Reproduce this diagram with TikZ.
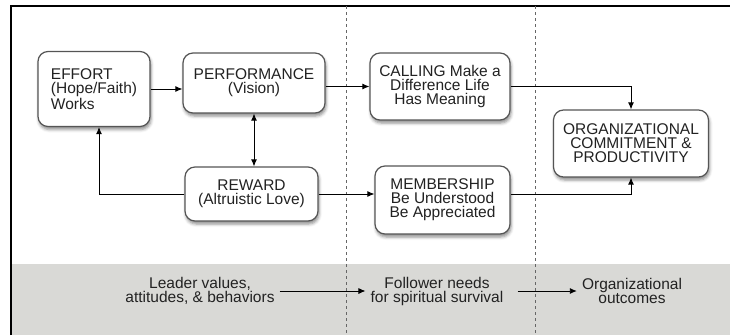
\documentclass[tikz,border=0pt]{standalone}
\usepackage{fontspec}
\setmainfont{Liberation Sans}
\usepackage{tikz}
\usetikzlibrary{arrows.meta,shadows.blur}
\definecolor{bandgray}{HTML}{D9D9D6}
\definecolor{boxline}{HTML}{555555}
\definecolor{inkgray}{HTML}{222222}

\begin{document}
\begin{tikzpicture}[x=1pt, y=-1pt,
  boxes/.style={draw=boxline, line width=1.2pt, fill=white, rounded corners=10pt,
    align=center, inner sep=3pt, text=inkgray,
    blur shadow={shadow xshift=1pt, shadow yshift=-3pt, shadow blur radius=3pt, shadow opacity=45},
    font=\fontsize{15.5}{14}\selectfont},
  labels/.style={align=center, inner sep=5pt, text=inkgray, font=\fontsize{15.5}{14}\selectfont},
  paths/.style={-{Latex[length=7pt,width=6pt]}, line width=0.9pt},
  twoway/.style={{Latex[length=7pt,width=6pt]}-{Latex[length=7pt,width=6pt]}, line width=0.9pt},
  guides/.style={dash pattern=on 3pt off 3pt, line width=0.8pt, black!60}]

 \useasboundingbox (0,0) rectangle (730,335);

 % frame, band and column guides
 \fill[bandgray] (11,264) rectangle (730,335);
 \draw[line width=1.5pt] (11,335) -- (11,6) -- (730,6);
 \draw[guides] (346,6) -- (346,335);
 \draw[guides] (535,6) -- (535,335);


 \node[boxes, align=left, minimum width=112pt, minimum height=75pt] (box_effort) at (94,89)
     {EFFORT\\(Hope/Faith)\\Works};

 \node[boxes, minimum width=142pt, minimum height=60pt] (box_performance) at (254,83)
     {PERFORMANCE\\(Vision)};

 \node[boxes, minimum width=133pt, minimum height=54pt] (box_reward) at (251.5,194)
     {REWARD\\(Altruistic Love)};

 \node[boxes, minimum width=140pt, minimum height=67pt] (box_calling) at (440,86.5)
     {CALLING Make a\\Difference Life\\Has Meaning};

 \node[boxes, minimum width=135pt, minimum height=68pt] (box_membership) at (442.5,200)
     {MEMBERSHIP\\Be Understood\\Be Appreciated};

 \node[boxes, minimum width=155pt, minimum height=67pt] (box_outcome) at (631,143.5)
     {ORGANIZATIONAL\\COMMITMENT \&\\PRODUCTIVITY};


 \node[labels] (label_leader) at (200,291)
     {Leader values,\\attitudes, \& behaviors};

 \node[labels] (label_follower) at (437,291)
     {Follower needs\\for spiritual survival};

 \node[labels] (label_outcomes) at (632,291)
     {Organizational\\outcomes};


 \draw [paths] (box_effort.east) -- (box_effort.east -| box_performance.west);
 \draw [paths] (box_performance.east |- box_calling) -- (box_calling.west);
 \draw [twoway] (box_performance.south) -- (box_performance.south |- box_reward.north);
 \draw [paths] (box_reward.west) -| ([xshift=5pt]box_effort.south);
 \draw [paths] (box_reward.east) -- (box_reward.east -| box_membership.west);
 \draw [paths] (box_calling.east) -| (box_outcome.north);
 \draw [paths] (box_membership.east |- box_reward) -| (box_outcome.south);

 \draw [paths] (label_leader.east) -- (label_follower.west);
 \draw [paths, shorten <=9pt] (label_follower.east) -- (label_outcomes.west);

\end{tikzpicture}
\end{document}
